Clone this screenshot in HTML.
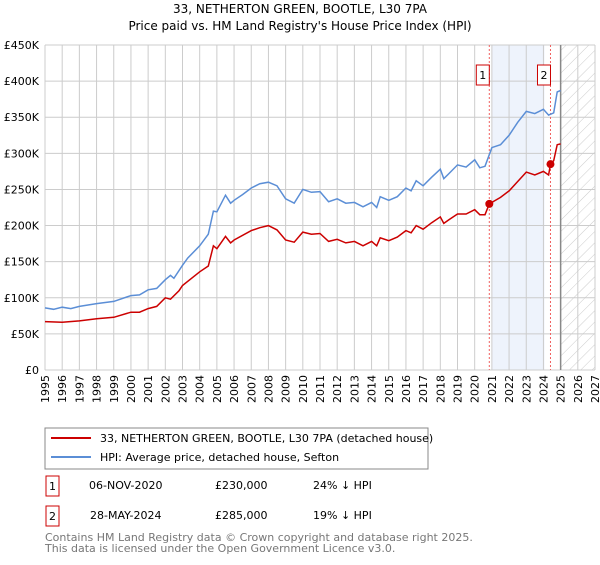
<!DOCTYPE html>
<html><head><meta charset="utf-8"><style>
body{margin:0;background:#fff;font-family:"Liberation Sans","DejaVu Sans",sans-serif;}
svg text{font-family:"DejaVu Sans","Liberation Sans",sans-serif;}
</style></head><body>
<svg width="600" height="560" xmlns="http://www.w3.org/2000/svg">
<defs><pattern id="hatch" width="8" height="8" patternUnits="userSpaceOnUse" patternTransform="rotate(45)"><line x1="0" y1="0" x2="0" y2="8" stroke="#ccc" stroke-width="1"/></pattern></defs>
<text x="300" y="13" text-anchor="middle" font-size="12">33, NETHERTON GREEN, BOOTLE, L30 7PA</text>
<text x="300" y="30" text-anchor="middle" font-size="12">Price paid vs. HM Land Registry's House Price Index (HPI)</text>
<g id="grid"></g><g id="marks"></g>
<rect x="45" y="428" width="383" height="41" fill="#fff" stroke="#888"/>
<line x1="51" y1="438" x2="91" y2="438" stroke="#cc0000" stroke-width="2"/>
<text x="100" y="442" font-size="11">33, NETHERTON GREEN, BOOTLE, L30 7PA (detached house)</text>
<line x1="51" y1="457" x2="91" y2="457" stroke="#5b8ed6" stroke-width="2"/>
<text x="100" y="461" font-size="11">HPI: Average price, detached house, Sefton</text>
<g font-size="11">
<rect x="46" y="476" width="13" height="20" fill="#fff" stroke="#cc0000"/><text x="52.5" y="490" text-anchor="middle">1</text>
<text x="89" y="489">06-NOV-2020</text><text x="215" y="489">£230,000</text><text x="313" y="489">24% ↓ HPI</text>
<rect x="46" y="506" width="13" height="20" fill="#fff" stroke="#cc0000"/><text x="52.5" y="520" text-anchor="middle">2</text>
<text x="90" y="519">28-MAY-2024</text><text x="215" y="519">£285,000</text><text x="313" y="519">19% ↓ HPI</text>
</g>
<text x="45" y="541" font-size="11" fill="#777">Contains HM Land Registry data © Crown copyright and database right 2025.</text>
<text x="45" y="552" font-size="11" fill="#777">This data is licensed under the Open Government Licence v3.0.</text>
</svg>
<script>
const hpiYears=[1995,1995.5,1996,1996.5,1997,1998,1999,2000,2000.5,2001,2001.5,2002,2002.3,2002.5,2003,2003.3,2004,2004.5,2004.8,2005,2005.5,2005.8,2006,2006.5,2007,2007.5,2008,2008.5,2009,2009.5,2010,2010.5,2011,2011.5,2012,2012.5,2013,2013.5,2014,2014.3,2014.5,2015,2015.5,2016,2016.3,2016.6,2017,2017.5,2018,2018.2,2018.5,2019,2019.5,2020,2020.3,2020.6,2021,2021.5,2022,2022.5,2023,2023.5,2024,2024.3,2024.6,2024.8,2025.0];
const hpiValues=[86,84,87,85,88,92,95,103,104,111,113,125,131,127,145,155,172,188,220,219,242,231,235,243,252,258,260,255,237,231,250,246,247,233,237,231,232,226,232,225,240,235,240,252,248,262,255,267,278,265,272,284,281,291,280,282,308,312,325,343,358,355,361,353,356,385,387];
const priceYears=[1995,1996,1997,1998,1999,2000,2000.5,2001,2001.5,2002,2002.3,2002.8,2003,2004,2004.5,2004.8,2005,2005.5,2005.8,2006,2007,2007.5,2008,2008.5,2009,2009.5,2010,2010.5,2011,2011.5,2012,2012.5,2013,2013.5,2014,2014.3,2014.5,2015,2015.5,2016,2016.3,2016.6,2017,2017.5,2018,2018.2,2018.5,2019,2019.5,2020,2020.3,2020.6,2020.85,2021.5,2022,2022.5,2023,2023.5,2024,2024.3,2024.41,2024.6,2024.8,2025.0];
const priceValues=[67,66,68,71,73,80,80,85,88,100,98,110,117,136,144,172,168,185,176,180,193,197,200,194,180,177,191,188,189,178,181,176,178,172,178,172,183,179,184,193,190,200,195,204,212,203,208,216,216,222,215,215,230,239,248,261,274,270,275,270,285,290,312,313];
const saleYears=[2020.85,2024.41];
const saleValues=[230,285];
const saleLabels=["1","2"];
const yTicks=[0,50,100,150,200,250,300,350,400,450];
const yTickLabels=["£0","£50K","£100K","£150K","£200K","£250K","£300K","£350K","£400K","£450K"];
const xTicks=[1995,1996,1997,1998,1999,2000,2001,2002,2003,2004,2005,2006,2007,2008,2009,2010,2011,2012,2013,2014,2015,2016,2017,2018,2019,2020,2021,2022,2023,2024,2025,2026,2027];
const X0=45,X1=595,Y0=370,Y1=45;
const xs=y=>X0+(y-1995)/(2027-1995)*(X1-X0);
const ys=v=>Y0-v/450*(Y0-Y1);
const NS="http://www.w3.org/2000/svg";
function mk(parent,tag,attrs){const e=document.createElementNS(NS,tag);for(const k in attrs)e.setAttribute(k,attrs[k]);parent.appendChild(e);return e;}
const g=document.getElementById('grid'),m=document.getElementById('marks');
let r=mk(g,'rect',{x:xs(2021),y:Y1,width:xs(2024.06)-xs(2021),height:Y0-Y1,fill:'#eef3fc'});


let h=mk(g,'rect',{x:xs(2025),y:Y1,width:X1-xs(2025),height:Y0-Y1,fill:'url(#hatch)'});


xTicks.forEach(t=>{const l=mk(g,'line',{x1:xs(t),y1:Y1,x2:xs(t),y2:Y0,stroke:'#ccc'});


const tx=mk(g,'text',{x:0,y:0,'font-size':11,'text-anchor':'end',transform:`translate(${xs(t)+4},${Y0+5}) rotate(-90)`});tx.textContent=t;

});
yTicks.forEach((t,i)=>{const l=mk(g,'line',{x1:X0,y1:ys(t),x2:X1,y2:ys(t),stroke:'#ccc'});


const tx=mk(g,'text',{x:X0-6,y:ys(t)+4,'font-size':11,'text-anchor':'end'});tx.textContent=yTickLabels[i];

});
let vl=mk(g,'line',{x1:xs(2025),y1:Y1,x2:xs(2025),y2:Y0,stroke:'#888','stroke-width':1.5});


saleYears.forEach((y,i)=>{const l=mk(g,'line',{x1:xs(y),y1:Y1,x2:xs(y),y2:Y0,stroke:'#f06060','stroke-dasharray':'2,2'});


const b=mk(g,'rect',{x:xs(y)-13,y:65,width:13,height:20,fill:'#fff',stroke:'#cc0000'});


const t=mk(g,'text',{x:xs(y)-6.5,y:79,'font-size':11,'text-anchor':'middle'});t.textContent=saleLabels[i];

});
const pts=(a,b)=>a.map((y,i)=>xs(y).toFixed(1)+','+ys(b[i]).toFixed(1)).join(' ');
let hp=mk(m,'polyline',{points:pts(hpiYears,hpiValues),fill:'none',stroke:'#5b8ed6','stroke-width':1.5});


let pp=mk(m,'polyline',{points:pts(priceYears,priceValues),fill:'none',stroke:'#cc0000','stroke-width':1.5});


saleYears.forEach((y,i)=>{const c=mk(m,'circle',{cx:xs(y),cy:ys(saleValues[i]),r:4,fill:'#cc0000'});

});
</script>
</body></html>
